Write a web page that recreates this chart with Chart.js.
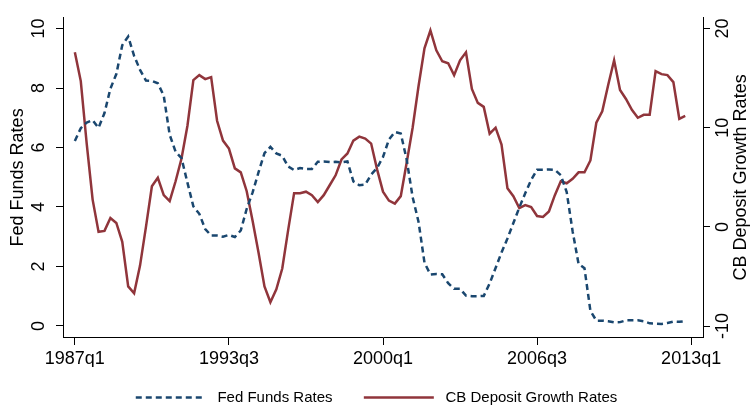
<!DOCTYPE html>
<html>
<head>
<meta charset="utf-8">
<script src="https://cdn.jsdelivr.net/npm/chart.js@4/dist/chart.umd.min.js"></script>
<style>
  html, body { margin: 0; padding: 0; background: #fff; }
</style>
</head>
<body>
<canvas id="canvas-1" width="753" height="411"></canvas>
<script>
var startYear = 1987;

// quarterly, 1987q1 .. 2012q4
var fedFunds = [
  6.22, 6.65, 6.84, 6.92,  6.66, 7.16, 7.98, 8.47,  9.44, 9.73, 9.08, 8.61,
  8.25, 8.24, 8.16, 7.74,  6.43, 5.86, 5.64, 4.82,  4.02, 3.77, 3.26, 3.04,
  3.04, 3.00, 3.06, 2.99,  3.21, 3.94, 4.49, 5.17,  5.81, 6.02, 5.80, 5.72,
  5.36, 5.24, 5.31, 5.28,  5.28, 5.52, 5.53, 5.51,  5.52, 5.50, 5.53, 4.86,
  4.73, 4.75, 5.09, 5.31,  5.68, 6.27, 6.52, 6.47,  5.59, 4.33, 3.50, 2.13,
  1.73, 1.75, 1.74, 1.44,  1.25, 1.25, 1.02, 1.00,  1.00, 1.01, 1.43, 1.95,
  2.47, 2.94, 3.46, 3.98,  4.46, 4.91, 5.25, 5.25,  5.26, 5.25, 5.07, 4.50,
  3.18, 2.09, 1.94, 0.51,  0.18, 0.18, 0.16, 0.12,  0.13, 0.19, 0.19, 0.19,
  0.16, 0.09, 0.08, 0.07,  0.10, 0.15, 0.14, 0.16
];

var depositGrowth = [
  17.6, 14.7, 8.4, 2.75,  -0.5, -0.4, 0.9, 0.4,  -1.5, -6.0, -6.7, -3.9,
  0.0, 4.1, 4.95, 3.2,  2.6, 4.6, 6.9, 10.2,  14.8, 15.3, 14.9, 15.1,
  10.7, 8.7, 7.9, 5.9,  5.5, 3.6, 0.6, -2.6,  -6.0, -7.6, -6.3, -4.2,
  -0.3, 3.4, 3.4, 3.55,  3.2, 2.5, 3.2, 4.2,  5.2, 6.8, 7.4, 8.7,
  9.1, 8.9, 8.4, 5.8,  3.55, 2.65, 2.35, 3.1,  6.5, 10.0, 14.2, 18.0,
  19.8, 17.8, 16.7, 16.5,  15.3, 16.8, 17.6, 13.9,  12.5, 12.1, 9.4, 10.0,
  8.3, 3.9, 3.1, 1.9,  2.2, 2.0, 1.1, 1.0,  1.55, 3.2, 4.6, 4.4,
  4.85, 5.5, 5.5, 6.7,  10.5, 11.65, 14.3, 16.8,  13.8, 12.9, 11.8, 11.0,
  11.3, 11.3, 15.7, 15.4,  15.3, 14.6, 10.9, 11.2
];

var xTickLabels = ['1987q1', '1993q3', '2000q1', '2006q3', '2013q1'];
var leftTicks = [0, 2, 4, 6, 8, 10];
var rightTicks = [-10, 0, 10, 20];

var FONT = "'Liberation Sans', Arial, Helvetica, sans-serif";

function quarterIndex(s) {
  var y = parseInt(s.slice(0, 4), 10);
  var q = parseInt(s.slice(5), 10);
  return (y - startYear) * 4 + q - 1;
}

function toPoints(arr) {
  return arr.map(function (v, i) { return {x: i, y: v}; });
}

var xTickValues = xTickLabels.map(quarterIndex);

// right-hand title reads bottom-to-top like the left one
var rightTitle = {
  id: 'rightTitle',
  afterDraw: function (chart) {
    var ctx = chart.ctx;
    var a = chart.chartArea;
    ctx.save();
    ctx.translate(chart.scales.y1.right - 12, (a.top + a.bottom) / 2);
    ctx.rotate(-Math.PI / 2);
    ctx.font = '18px ' + FONT;
    ctx.fillStyle = '#000';
    ctx.textAlign = 'center';
    ctx.textBaseline = 'middle';
    ctx.fillText('CB Deposit Growth Rates', 0, 0);
    ctx.restore();
  }
};

var ctx = document.getElementById('canvas-1');
var chart = new Chart(ctx, {
  type: 'line',
  data: {
    datasets: [
      {
        label: 'Fed Funds Rates',
        data: toPoints(fedFunds),
        yAxisID: 'y',
        borderColor: '#1a476f',
        backgroundColor: '#1a476f',
        borderWidth: 2.5,
        borderDash: [6, 4],
        pointRadius: 0,
        tension: 0,
        fill: false
      },
      {
        label: 'CB Deposit Growth Rates',
        data: toPoints(depositGrowth),
        yAxisID: 'y1',
        borderColor: '#90353b',
        backgroundColor: '#90353b',
        borderWidth: 2.5,
        pointRadius: 0,
        tension: 0,
        fill: false
      }
    ]
  },
  options: {
    responsive: false,
    animation: false,
    layout: { padding: { top: 7, left: 0, right: 0, bottom: -4 } },
    plugins: {
      tooltip: { enabled: false },
      legend: {
        position: 'bottom',
        labels: {
          usePointStyle: true,
          pointStyle: 'line',
          pointStyleWidth: 70,
          padding: 23,
          color: '#000',
          font: { size: 15, family: FONT },
          generateLabels: function (chart) {
            var items = Chart.defaults.plugins.legend.labels.generateLabels(chart);
            items.forEach(function (it, i) {
              var ds = chart.data.datasets[it.datasetIndex];
              it.text = ' ' + it.text + (i < items.length - 1 ? '  ' : '');
              it.lineDash = ds.borderDash || [];
              it.lineWidth = ds.borderWidth;
              it.strokeStyle = ds.borderColor;
            });
            return items;
          }
        }
      }
    },
    scales: {
      x: {
        type: 'linear',
        min: -2,
        max: 106,
        afterBuildTicks: function (s) {
          s.ticks = xTickValues.map(function (v) { return {value: v}; });
        },
        afterFit: function (s) { s.height = 30; },
        ticks: {
          autoSkip: false,
          maxRotation: 0,
          padding: 3,
          color: '#000',
          font: { size: 18, family: FONT },
          callback: function (v, i) { return xTickLabels[i]; }
        },
        grid: { drawOnChartArea: false, tickLength: 8, color: '#000' },
        border: { color: '#000' }
      },
      y: {
        position: 'left',
        min: -0.37,
        max: 10.36,
        afterBuildTicks: function (s) {
          s.ticks = leftTicks.map(function (v) { return {value: v}; });
        },
        afterFit: function (s) { s.width = 63; },
        ticks: {
          minRotation: 90,
          maxRotation: 90,
          crossAlign: 'center',
          padding: 7,
          color: '#000',
          font: { size: 18, family: FONT }
        },
        title: {
          display: true,
          text: 'Fed Funds Rates',
          color: '#000',
          font: { size: 18, family: FONT },
          padding: { top: 7, bottom: 0 }
        },
        grid: { drawOnChartArea: false, tickLength: 7, color: '#000' },
        border: { color: '#000' }
      },
      y1: {
        position: 'right',
        min: -11.1,
        max: 21.08,
        afterBuildTicks: function (s) {
          s.ticks = rightTicks.map(function (v) { return {value: v}; });
        },
        afterFit: function (s) { s.width = 50; },
        ticks: {
          minRotation: 90,
          maxRotation: 90,
          crossAlign: 'center',
          padding: 0,
          color: '#000',
          font: { size: 18, family: FONT }
        },
        grid: { drawOnChartArea: false, tickLength: 7, color: '#000' },
        border: { color: '#000' }
      }
    }
  },
  plugins: [rightTitle]
});
</script>
</body>
</html>
